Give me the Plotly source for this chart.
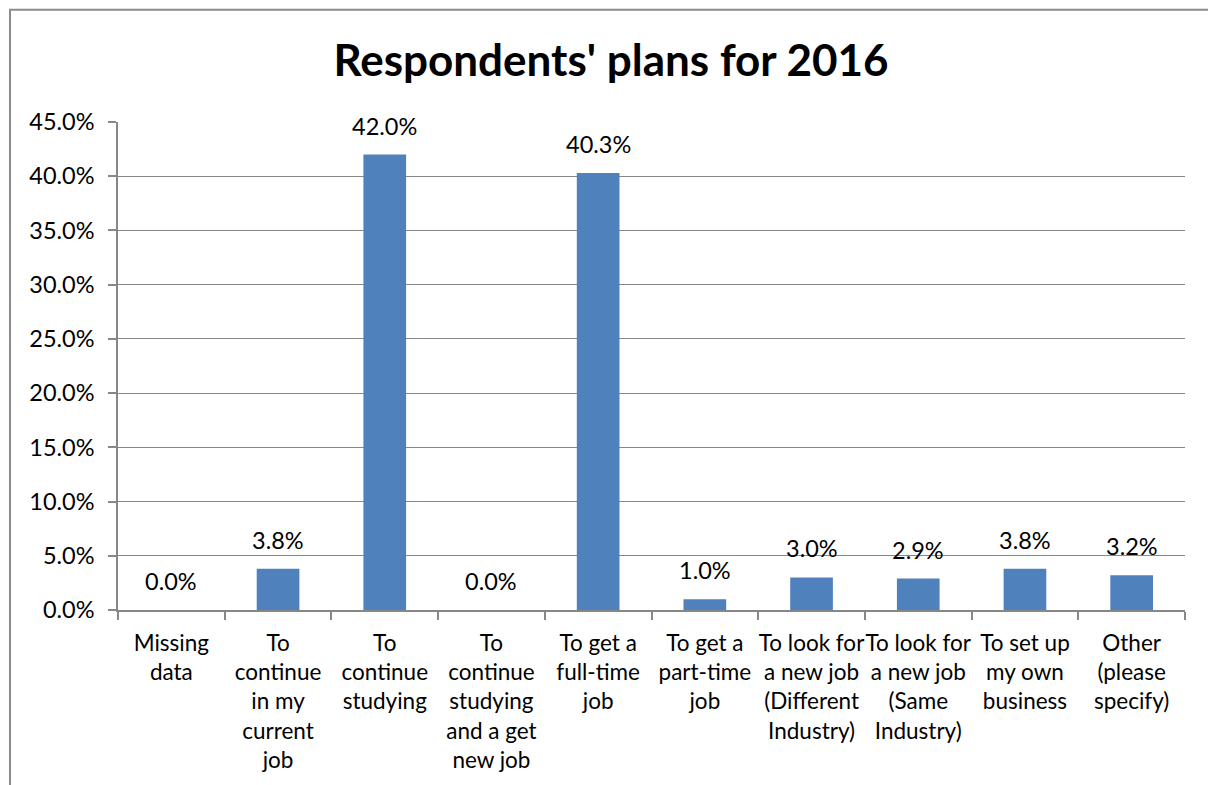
import plotly.graph_objects as go

categories = [
    "Missing<br>data",
    "To<br>continue<br>in my<br>current<br>job",
    "To<br>continue<br>studying",
    "To<br>continue<br>studying<br>and a get<br>new job",
    "To get a<br>full-time<br>job",
    "To get a<br>part-time<br>job",
    "To look for<br>a new job<br>(Different<br>Industry)",
    "To look for<br>a new job<br>(Same<br>Industry)",
    "To set up<br>my own<br>business",
    "Other<br>(please<br>specify)",
]
shares = [0.000, 0.038, 0.420, 0.000, 0.403, 0.010, 0.030, 0.029, 0.038, 0.032]
y_ticks = [0.00, 0.05, 0.10, 0.15, 0.20, 0.25, 0.30, 0.35, 0.40, 0.45]

W, H = 1208, 785
L, R, T, B = 118, 23, 122, 171.5
FONT = "Lato"
GRID = "#878787"

fig = go.Figure()
fig.add_trace(go.Bar(
    x=categories,
    y=shares,
    marker=dict(color="#4F81BD", line=dict(width=0)),
    hoverinfo="skip",
))

# value labels above each bar
for c, v in zip(categories, shares):
    fig.add_annotation(
        x=c, y=v, xref="x", yref="y",
        text=f"{v * 100:.1f}%",
        showarrow=False, yanchor="bottom", yshift=13,
        font=dict(family=FONT, size=23.5, color="#000000"),
    )

# chart frame (left and top edges visible)
plot_w = W - L - R
plot_h = H - T - B
fx0 = (10 - L) / plot_w
fx1 = (W + 20 - L) / plot_w
fy1 = (H - B - 9) / plot_h
fy0 = (H - B - (H + 20)) / plot_h
fig.add_shape(type="rect", xref="paper", yref="paper",
              x0=fx0, x1=fx1, y0=fy0, y1=fy1,
              line=dict(color="#8C8C8C", width=2), layer="below")

fig.update_layout(
    width=W, height=H,
    margin=dict(l=L, r=R, t=T, b=B),
    paper_bgcolor="white", plot_bgcolor="white",
    bargap=0.6,
    showlegend=False,
    font=dict(family=FONT, size=23, color="#000000"),
    title=dict(
        text="<b>Respondents' plans for 2016</b>",
        x=611 / W, xanchor="center", xref="container",
        y=1 - 61 / H, yanchor="middle", yref="container",
        font=dict(family=FONT, size=44, color="#000000"),
    ),
)
fig.update_yaxes(
    range=[0, 0.45],
    tickvals=y_ticks,
    tickformat=".1%",
    showgrid=True, gridcolor=GRID, gridwidth=1.3,
    showline=True, linecolor=GRID, linewidth=1.5,
    ticks="outside", ticklen=8, tickcolor=GRID, tickwidth=1.5,
    tickfont=dict(family=FONT, size=23.5, color="#000000"),
    ticklabelstandoff=9,
    zeroline=False,
    fixedrange=True,
)
fig.update_xaxes(
    type="category",
    showgrid=False,
    showline=True, linecolor=GRID, linewidth=1.5,
    ticks="outside", ticklen=8, tickcolor=GRID, tickwidth=1.5,
    tickson="boundaries",
    tickangle=0,
    tickfont=dict(family=FONT, size=22.5, color="#000000"),
    ticklabelstandoff=12,
    fixedrange=True,
)

fig.write_html("out.html")
